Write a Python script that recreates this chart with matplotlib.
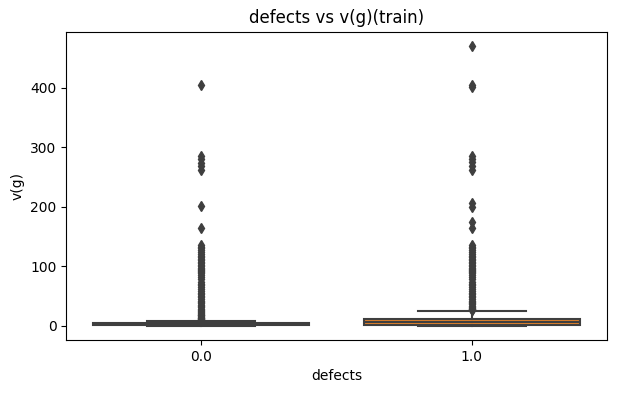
import matplotlib

matplotlib.use("Agg")
import matplotlib.pyplot as plt

# categories and box statistics
categories = ["0.0", "1.0"]
whisker_low = [0, 0]
q1 = [2, 2]
medians = [3, 7]
q3 = [5, 12]
whisker_high = [9, 25]

# outliers (points above the upper whisker)
fliers_0 = [
    10, 11, 12, 13, 14, 15, 16, 18, 19, 20, 22, 24, 25, 27, 29, 31, 33, 35,
    38, 40, 42, 45, 48, 50, 53, 56, 59, 62, 65, 68, 71, 74, 78, 82, 86, 88,
    90, 92, 94, 96, 98, 100, 103, 105, 108, 110, 113, 115, 118, 121, 124,
    127, 130, 133, 135, 164, 201, 262, 268, 274, 280, 285, 405,
]
fliers_1 = [
    26, 27, 28, 29, 30, 32, 34, 36, 38, 40, 42, 45, 48, 50, 53, 56, 59, 62,
    65, 68, 71, 74, 78, 82, 86, 88, 90, 92, 94, 96, 98, 100, 103, 105, 108,
    110, 113, 115, 118, 121, 124, 127, 130, 133, 135, 165, 175, 200, 207,
    262, 268, 275, 280, 285, 401, 405, 470,
]

colors = ["#3274a1", "#e1812c"]
gray = "#3f3f3f"

stats = []
for i, name in enumerate(categories):
    stats.append(
        {
            "label": name,
            "whislo": whisker_low[i],
            "q1": q1[i],
            "med": medians[i],
            "q3": q3[i],
            "whishi": whisker_high[i],
            "fliers": [fliers_0, fliers_1][i],
        }
    )

fig, ax = plt.subplots(figsize=(6.18, 3.93), dpi=100)
fig.subplots_adjust(left=0.107, right=0.982, top=0.919, bottom=0.135)

bp = ax.bxp(
    stats,
    positions=[0, 1],
    widths=0.8,
    capwidths=0.4,
    patch_artist=True,
    boxprops=dict(edgecolor=gray, linewidth=1.5),
    whiskerprops=dict(color=gray, linewidth=1.5),
    capprops=dict(color=gray, linewidth=1.5),
    medianprops=dict(color=gray, linewidth=1.5),
    flierprops=dict(
        marker="d", markersize=5, markerfacecolor=gray, markeredgecolor=gray
    ),
)
for patch, c in zip(bp["boxes"], colors):
    patch.set_facecolor(c)

ax.set_xlim(-0.5, 1.5)
ax.set_xticks([0, 1])
ax.set_xticklabels(categories)
ax.set_ylim(-23.5, 493.5)
ax.set_title("defects vs v(g)(train)")
ax.set_xlabel("defects")
ax.set_ylabel("v(g)")

fig.savefig("out.png", dpi=100)
